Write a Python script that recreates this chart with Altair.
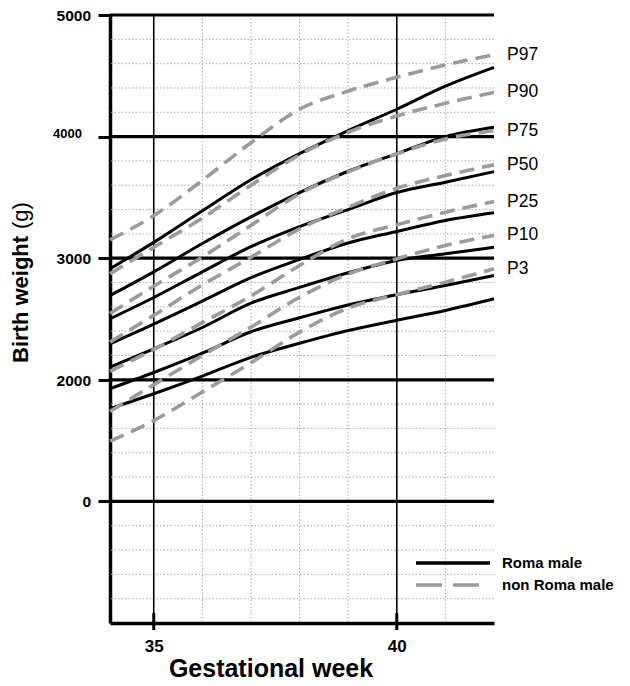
import altair as alt
import pandas as pd

FONT = "Liberation Sans"

# ---- data ----
weeks = [34.1, 35, 36, 37, 38, 39, 40, 41, 42]
pct_labels = ["P97", "P90", "P75", "P50", "P25", "P10", "P3"]
group_labels = ["Roma male", "non Roma male"]

roma_p97 = [2913, 3130, 3390, 3645, 3860, 4050, 4225, 4415, 4570]
roma_p90 = [2693, 2888, 3121, 3340, 3540, 3715, 3860, 4000, 4077]
roma_p75 = [2502, 2677, 2888, 3095, 3260, 3400, 3540, 3625, 3712]
roma_p50 = [2296, 2458, 2647, 2840, 2990, 3125, 3220, 3310, 3373]
roma_p25 = [2104, 2255, 2430, 2630, 2760, 2880, 2981, 3036, 3090]
roma_p10 = [1927, 2060, 2219, 2395, 2510, 2615, 2700, 2776, 2858]
roma_p3 = [1762, 1885, 2030, 2185, 2300, 2405, 2490, 2570, 2666]

non_p97 = [3151, 3350, 3640, 3950, 4225, 4374, 4488, 4589, 4674]
non_p90 = [2872, 3090, 3330, 3600, 3850, 4036, 4170, 4274, 4364]
non_p75 = [2545, 2770, 3010, 3270, 3530, 3710, 3858, 3981, 4049]
non_p50 = [2310, 2530, 2780, 3008, 3241, 3419, 3575, 3680, 3768]
non_p25 = [2070, 2250, 2470, 2690, 2940, 3160, 3275, 3378, 3466]
non_p10 = [1740, 1960, 2200, 2433, 2679, 2870, 2995, 3104, 3187]
non_p3 = [1495, 1665, 1900, 2140, 2392, 2590, 2700, 2803, 2913]

y_major = [1000, 2000, 3000, 4000, 5000]
y_tick_text = ["0", "2000", "3000", "4000", "5000"]
y_minor = [v for v in range(200, 5000, 200) if v % 1000 != 0]
x_major = [35, 40]
x_minor = [36, 37, 38, 39, 41]

roma_series = [roma_p97, roma_p90, roma_p75, roma_p50, roma_p25, roma_p10, roma_p3]
non_series = [non_p97, non_p90, non_p75, non_p50, non_p25, non_p10, non_p3]


def to_long(series, group):
    rows = []
    for pct, vals in zip(pct_labels, series):
        for w, v in zip(weeks, vals):
            rows.append({"week": w, "weight": v, "pct": pct, "group": group})
    return pd.DataFrame(rows)


roma_df = to_long(roma_series, group_labels[0])
non_df = to_long(non_series, group_labels[1])
end_df = pd.DataFrame({"week": [weeks[-1]] * len(pct_labels),
                       "weight": [s[-1] for s in non_series],
                       "pct": pct_labels})
ylab_df = pd.DataFrame({"v": y_major, "t": y_tick_text})

W, H = 384, 608

x_scale = alt.Scale(domain=[34.1, 42], nice=False, zero=False)
y_scale = alt.Scale(domain=[0, 5000], nice=False, zero=False)

x_axis = alt.Axis(values=x_major, title=None, grid=False, domainColor="black",
                  domainWidth=3.5, ticks=False, labelFont=FONT, labelFontWeight="bold",
                  labelFontSize=17, labelPadding=15, labelColor="black", labelFlush=False)
y_axis = alt.Axis(values=y_major, title=None, grid=False, domainColor="black",
                  domainWidth=3.5, tickColor="black", tickWidth=3, tickSize=12,
                  labels=False)

X = lambda f: alt.X(f, scale=x_scale, axis=x_axis)
Y = lambda f: alt.Y(f, scale=y_scale, axis=y_axis)

minor_h = alt.Chart(pd.DataFrame({"v": y_minor})).mark_rule(
    color="#aaaaaa", strokeWidth=1, strokeDash=[1.5, 2]).encode(y=Y("v:Q"))
minor_v = alt.Chart(pd.DataFrame({"w": x_minor})).mark_rule(
    color="#aaaaaa", strokeWidth=1, strokeDash=[1.5, 2]).encode(x=X("w:Q"))
major_v = alt.Chart(pd.DataFrame({"w": x_major})).mark_rule(
    color="black", strokeWidth=1.6).encode(x=X("w:Q"))
major_h = alt.Chart(pd.DataFrame({"v": y_major})).mark_rule(
    color="black", strokeWidth=3.2).encode(y=Y("v:Q"))
x_ticks = alt.Chart(pd.DataFrame({"w": x_major})).mark_rule(
    color="black", strokeWidth=3).encode(x=X("w:Q"), y=alt.value(H - 10), y2=alt.value(H + 7))

ylab_main = alt.Chart(ylab_df).transform_filter("datum.v != 4000").mark_text(
    align="right", baseline="middle", font=FONT, fontSize=15.5, fontWeight="bold",
    color="black", dy=1).encode(x=alt.value(-19), y=Y("v:Q"), text="t:N")
ylab_small = alt.Chart(ylab_df).transform_filter("datum.v == 4000").mark_text(
    align="right", baseline="middle", font=FONT, fontSize=13, fontWeight="bold",
    color="black", dy=-3).encode(x=alt.value(-28), y=Y("v:Q"), text="t:N")

roma_lines = alt.Chart(roma_df).mark_line(
    color="black", strokeWidth=3, interpolate="monotone").encode(
    x=X("week:Q"), y=Y("weight:Q"), detail="pct:N")
non_lines = alt.Chart(non_df).mark_line(
    color="#9b9b9b", strokeWidth=3.6, strokeDash=[15, 8], interpolate="monotone").encode(
    x=X("week:Q"), y=Y("weight:Q"), detail="pct:N")

pct_text = alt.Chart(end_df).mark_text(
    align="left", baseline="middle", dx=13, font=FONT, fontSize=17.5, color="black").encode(
    x=X("week:Q"), y=Y("weight:Q"), text="pct:N")

leg_black = alt.Chart(pd.DataFrame({"g": [group_labels[0]]})).mark_rule(
    color="black", strokeWidth=3.5).encode(x=alt.value(306), x2=alt.value(380), y=alt.value(548))
leg_gray = alt.Chart(pd.DataFrame({"g": [group_labels[1]]})).mark_rule(
    color="#9b9b9b", strokeWidth=3.6, strokeDash=[26, 11]).encode(
    x=alt.value(306), x2=alt.value(380), y=alt.value(570))
leg_text = alt.Chart(pd.DataFrame({"g": group_labels, "yy": [548, 570]})).mark_text(
    align="left", baseline="middle", font=FONT, fontSize=15, fontWeight="bold",
    color="black").encode(x=alt.value(392), y=alt.Y("yy:Q", scale=None), text="g:N")

ytitle_a = alt.Chart(pd.DataFrame({"t": ["Birth weight"]})).mark_text(
    align="left", baseline="alphabetic", angle=270, font=FONT, fontSize=22,
    fontWeight="bold", color="black").encode(x=alt.value(-82), y=alt.value(348), text="t:N")
ytitle_b = alt.Chart(pd.DataFrame({"t": ["(g)"]})).mark_text(
    align="left", baseline="alphabetic", angle=270, font=FONT, fontSize=22,
    fontWeight="normal", color="black").encode(x=alt.value(-82), y=alt.value(214), text="t:N")
xtitle = alt.Chart(pd.DataFrame({"t": ["Gestational week"]})).mark_text(
    align="center", baseline="alphabetic", font=FONT, fontSize=25,
    fontWeight="bold", color="black").encode(x=alt.value(161), y=alt.value(662), text="t:N")

chart = alt.layer(
    minor_h, minor_v, major_v, major_h, x_ticks, ylab_main, ylab_small,
    roma_lines, non_lines, pct_text,
    leg_black, leg_gray, leg_text, ytitle_a, ytitle_b, xtitle
).properties(
    width=W, height=H,
    autosize=alt.AutoSizeParams(type="none"),
    padding={"left": 102, "top": 7, "right": 128, "bottom": 61},
).configure_view(stroke=None)

chart.save("out.html", embed_options={"renderer": "svg", "actions": False})
